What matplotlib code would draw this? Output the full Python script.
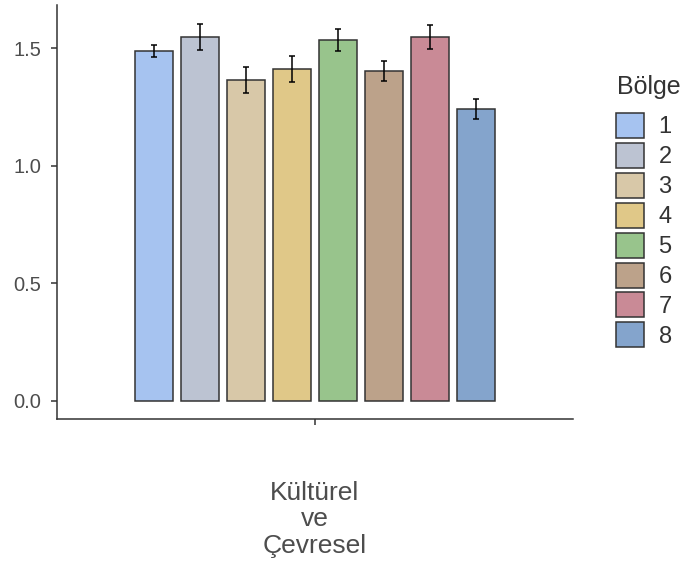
import matplotlib
matplotlib.use("Agg")
import matplotlib.pyplot as plt
import numpy as np
from matplotlib.patches import Patch

plt.rcParams['font.family'] = ['Liberation Sans', 'DejaVu Sans']

category = "Kültürel\nve\nÇevresel"
regions = ["1", "2", "3", "4", "5", "6", "7", "8"]
means = [1.487, 1.547, 1.364, 1.411, 1.534, 1.402, 1.547, 1.241]
errors = [0.026, 0.055, 0.055, 0.054, 0.047, 0.041, 0.050, 0.042]
colors = ["#a6c3f0", "#bcc3d2", "#d8c8a8", "#e0c888", "#98c48c",
          "#bca28a", "#c98a96", "#84a4cc"]

fig = plt.figure(figsize=(6.84, 5.66), dpi=100)
ax = fig.add_axes([57/684, 1 - 419/566, (573-57)/684, (419-5)/566])

step = 0.115
width = 0.095
offsets = (np.arange(len(regions)) - (len(regions) - 1) / 2) * step
for off, m, e, c in zip(offsets, means, errors, colors):
    ax.bar(off, m, width=width, color=c, edgecolor="#333333", linewidth=1.1, zorder=2)
    ax.errorbar(off, m, yerr=e, fmt="none", ecolor="black", elinewidth=1.1,
                capsize=2.5, capthick=1.1, zorder=3)

ax.set_xlim(-0.646, 0.646)
ax.set_ylim(-0.0765, 1.683)
ax.set_xticks([0])
ax.set_xticklabels([category], fontsize=19, color="#4d4d4d", linespacing=1.15)
ax.set_yticks([0, 0.5, 1.0, 1.5])
ax.set_yticklabels(["0.0", "0.5", "1.0", "1.5"], fontsize=14.5, color="#4d4d4d")
ax.tick_params(axis="both", color="#333333", width=1.1, length=4.3)
ax.tick_params(axis="y", pad=7.2)
ax.tick_params(axis="x", pad=40)
for s in ["top", "right"]:
    ax.spines[s].set_visible(False)
for s in ["left", "bottom"]:
    ax.spines[s].set_color("#333333")
    ax.spines[s].set_linewidth(1.1)

handles = [Patch(facecolor=c, edgecolor="#333333", linewidth=1.1) for c in colors]
leg = fig.legend(handles, regions, loc="upper left",
                 bbox_to_anchor=(616/684, 1 - 113/566), frameon=False,
                 fontsize=17, handlelength=1.2, handleheight=1.25,
                 labelspacing=0.19, handletextpad=0.6, borderpad=0, borderaxespad=0)
for t in leg.get_texts():
    t.set_color("#333333")
fig.text(617/684, 1 - 75/566, "Bölge", fontsize=18, color="#333333",
         ha="left", va="top")

fig.savefig("out.png", dpi=100)
